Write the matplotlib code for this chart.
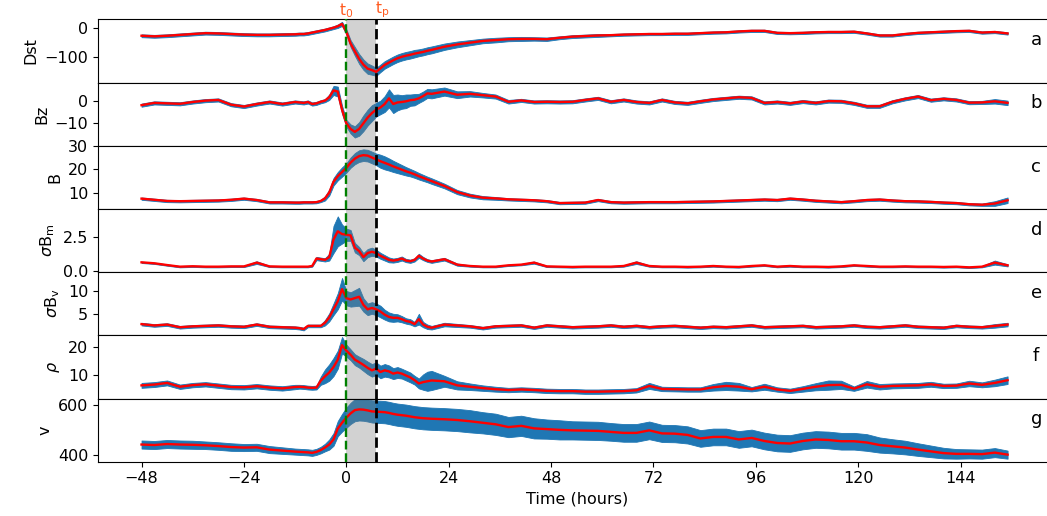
import matplotlib
matplotlib.use("Agg")
import matplotlib.pyplot as plt
import matplotlib.transforms as mtransforms
import numpy as np

# ---------------- data (hours relative to storm onset t0) ----------------
hours = [-48, -45, -42, -39, -36, -33, -30, -27, -24, -21, -18, -15, -12,
         -11, -10, -9, -8, -7, -6, -5, -4, -3, -2, -1, 0, 1, 2, 3, 4, 5, 6, 7, 8, 9, 10,
         11, 12, 13, 14, 15, 16, 17, 18, 19, 20,
         23, 26, 29, 32, 35, 38, 41, 44, 47, 50, 53, 56, 59, 62, 65, 68, 71, 74, 77, 80,
         83, 86, 89, 92, 95, 98, 101, 104, 107, 110, 113, 116, 119, 122, 125, 128, 131,
         134, 137, 140, 143, 146, 149, 152, 155]

t_onset = 0
t_peak = 7

dst = [-28, -30, -28, -25, -22, -19, -20, -22, -24, -25, -25, -24, -23,
       -22, -22, -20, -17, -14, -11, -8, -4, 0, 5, 13, -14, -55, -82, -108, -128, -142, -147, -153, -141, -129, -121,
       -113, -106, -101, -97, -94, -90, -87, -84, -80, -77,
       -66, -58, -52, -46, -43, -40, -39, -39, -40, -35, -31, -29, -27, -26, -24, -23, -22, -22, -21, -21,
       -19, -17, -16, -13, -11, -11, -18, -19, -18, -16, -15, -15, -14, -20, -27, -27, -22,
       -18, -16, -14, -12, -11, -17, -15, -20]
dst_w = [5, 5, 5, 5, 5, 5, 5, 5, 5, 5, 5, 5, 5,
         5, 5, 5, 5, 5, 5, 5, 5, 5, 6, 7, 9, 12, 15, 17, 18, 18, 16, 14, 13, 13, 13,
         13, 13, 13, 13, 13, 13, 12, 12, 12, 12,
         11, 10, 9, 8, 8, 7, 7, 6, 6, 5, 5, 5, 5, 4, 4, 4, 4, 4, 4, 4,
         4, 4, 4, 4, 4, 4, 4, 4, 4, 4, 4, 4, 4, 4, 4, 4, 4,
         4, 4, 4, 4, 4, 4, 4, 4]

bz = [-2.0, -1.0, -1.2, -1.4, -0.6, 0.0, 0.3, -1.8, -2.6, -1.5, -0.6, -1.5, -0.6,
      -0.8, -1.0, -0.6, -1.5, -1.2, -0.5, 0.0, 1.5, 4.5, 4.0, -4.0, -10.0, -12.5, -13.8, -12.5, -10.0, -7.5, -5.5, -4.0, -3.0, -1.5, 1.0,
      -1.5, -0.8, -0.6, -0.3, 0.2, 0.4, 1.0, 2.0, 3.2, 3.0,
      4.0, 2.6, 3.0, 2.4, 1.8, -0.5, 0.1, -0.6, -0.5, -0.6, -0.5, 0.3, 1.0, -0.5, 0.3, -0.6, -1.0, 0.3, -0.8, -1.2,
      -0.3, 0.5, 1.0, 1.5, 1.2, -1.0, -0.6, -1.2, -0.4, -1.0, -0.2, -0.3, -1.2, -2.5, -2.5, -0.5, 0.8,
      1.8, 0.2, 0.8, 0.3, -0.9, -0.8, -0.3, -1.0]
bz_w = [0.7, 0.7, 0.7, 0.7, 0.7, 0.7, 0.7, 0.7, 0.7, 0.7, 0.7, 0.7, 0.7,
        0.7, 0.7, 0.7, 0.7, 0.7, 0.7, 0.7, 1.2, 2.0, 2.2, 1.8, 1.5, 2.0, 2.5, 3.0, 3.5, 3.5, 3.5, 3.0, 3.0, 3.5, 4.0,
        4.0, 3.5, 3.0, 3.0, 2.5, 2.5, 2.0, 2.0, 2.0, 2.0,
        1.8, 1.5, 1.2, 1.0, 0.9, 0.8, 0.7, 0.7, 0.7, 0.7, 0.7, 0.7, 0.7, 0.7, 0.7, 0.7, 0.7, 0.7, 0.7, 0.7,
        0.7, 0.7, 0.7, 0.7, 0.7, 0.7, 0.7, 0.7, 0.7, 0.7, 0.7, 0.7, 0.7, 0.7, 0.7, 0.7, 0.7,
        0.7, 0.7, 0.7, 0.7, 0.7, 0.7, 1.0, 1.0]

bmag = [7.4, 6.9, 6.4, 6.3, 6.4, 6.5, 6.6, 6.9, 7.4, 6.8, 5.8, 5.8, 5.7,
        5.7, 5.8, 5.8, 5.8, 5.9, 6.4, 7.5, 10.0, 14.6, 17.0, 18.8, 20.5, 22.8, 24.5, 25.6, 26.0, 25.8, 25.0, 24.2, 23.4, 22.7, 22.0,
        21.2, 20.5, 19.8, 19.1, 18.5, 17.8, 17.0, 16.3, 15.6, 14.9,
        12.8, 10.2, 8.7, 7.8, 7.5, 7.1, 6.9, 6.7, 6.3, 5.5, 5.6, 5.7, 6.8, 5.9, 5.7, 5.8, 5.9, 5.9, 5.9, 6.0,
        6.1, 6.2, 6.4, 6.6, 6.8, 7.0, 6.8, 7.4, 7.0, 6.5, 6.2, 5.9, 6.3, 6.8, 7.0, 6.6, 6.3,
        6.2, 6.0, 5.7, 5.5, 5.0, 4.8, 5.3, 6.7]
bmag_w = [0.5, 0.5, 0.5, 0.5, 0.5, 0.5, 0.5, 0.5, 0.5, 0.5, 0.5, 0.5, 0.5,
          0.5, 0.5, 0.5, 0.5, 0.5, 0.5, 0.9, 1.3, 1.6, 1.8, 2.0, 2.0, 2.2, 2.4, 2.5, 2.5, 2.5, 2.5, 2.5, 2.8, 2.8, 2.6,
          2.4, 2.2, 2.0, 1.8, 1.6, 1.5, 1.4, 1.3, 1.2, 1.2,
          1.0, 0.9, 0.8, 0.7, 0.6, 0.5, 0.5, 0.5, 0.5, 0.5, 0.5, 0.5, 0.5, 0.5, 0.5, 0.5, 0.5, 0.5, 0.5, 0.5,
          0.5, 0.5, 0.5, 0.5, 0.5, 0.5, 0.5, 0.5, 0.5, 0.5, 0.5, 0.5, 0.5, 0.5, 0.5, 0.5, 0.5,
          0.5, 0.5, 0.5, 0.5, 0.5, 0.5, 1.0, 1.2]

sigma_bm = [0.62, 0.55, 0.42, 0.30, 0.33, 0.30, 0.30, 0.32, 0.32, 0.60, 0.32, 0.30, 0.30,
            0.30, 0.30, 0.30, 0.35, 0.90, 0.85, 0.80, 1.00, 2.30, 2.90, 2.70, 2.65, 2.60, 1.70, 1.45, 1.00, 1.30, 1.40, 1.30, 1.10, 0.95, 0.80,
            0.75, 0.80, 0.90, 0.75, 0.70, 0.80, 1.10, 0.90, 0.75, 0.68,
            0.85, 0.45, 0.35, 0.30, 0.30, 0.40, 0.45, 0.60, 0.32, 0.30, 0.28, 0.30, 0.30, 0.30, 0.35, 0.60, 0.35, 0.30, 0.30, 0.28,
            0.30, 0.35, 0.30, 0.28, 0.35, 0.40, 0.30, 0.35, 0.30, 0.30, 0.28, 0.32, 0.40, 0.35, 0.30, 0.30, 0.32,
            0.30, 0.30, 0.28, 0.30, 0.25, 0.30, 0.60, 0.40]
sigma_bm_w = [0.05, 0.05, 0.05, 0.05, 0.05, 0.05, 0.05, 0.05, 0.05, 0.10, 0.05, 0.05, 0.05,
              0.05, 0.05, 0.05, 0.05, 0.12, 0.12, 0.12, 0.25, 1.00, 1.10, 0.70, 0.45, 0.40, 0.35, 0.30, 0.30, 0.30, 0.30, 0.25, 0.22, 0.20, 0.18,
              0.15, 0.15, 0.15, 0.12, 0.12, 0.12, 0.15, 0.12, 0.10, 0.10,
              0.10, 0.08, 0.05, 0.05, 0.05, 0.05, 0.05, 0.08, 0.05, 0.05, 0.05, 0.05, 0.05, 0.05, 0.05, 0.10, 0.05, 0.05, 0.05, 0.05,
              0.05, 0.05, 0.05, 0.05, 0.05, 0.05, 0.05, 0.05, 0.05, 0.05, 0.05, 0.05, 0.05, 0.05, 0.05, 0.05, 0.05,
              0.05, 0.05, 0.05, 0.05, 0.05, 0.05, 0.15, 0.08]

sigma_bv = [2.7, 2.4, 2.6, 2.0, 2.2, 2.3, 2.4, 2.2, 2.1, 2.6, 2.1, 2.0, 1.9,
            1.8, 1.6, 2.3, 2.3, 2.3, 2.3, 3.0, 4.2, 6.0, 7.8, 10.5, 8.5, 8.2, 8.5, 8.8, 7.0, 6.0, 6.3, 6.0, 5.5, 4.8, 4.3,
            4.1, 4.1, 3.8, 3.4, 3.2, 2.7, 3.8, 2.6, 2.1, 1.9,
            2.6, 2.4, 2.2, 1.8, 2.2, 2.3, 2.4, 1.9, 2.4, 2.2, 2.0, 2.1, 2.2, 2.4, 2.1, 2.3, 2.0, 2.2, 2.3, 2.1,
            1.9, 2.1, 2.0, 2.2, 2.4, 2.0, 2.1, 2.2, 2.3, 2.0, 2.1, 2.2, 2.4, 2.1, 2.0, 2.2, 2.4,
            2.1, 2.0, 1.9, 2.3, 2.1, 2.0, 2.3, 2.6]
sigma_bv_w = [0.3, 0.3, 0.3, 0.3, 0.3, 0.3, 0.3, 0.3, 0.3, 0.3, 0.3, 0.3, 0.3,
              0.3, 0.3, 0.3, 0.3, 0.3, 0.3, 0.6, 0.9, 1.3, 1.8, 2.5, 1.6, 1.6, 1.8, 2.0, 1.5, 1.3, 1.3, 1.3, 1.3, 1.1, 1.0,
              0.9, 0.8, 0.7, 0.6, 0.6, 0.5, 1.2, 0.6, 0.5, 0.4,
              0.4, 0.35, 0.3, 0.3, 0.3, 0.3, 0.3, 0.3, 0.3, 0.3, 0.3, 0.3, 0.3, 0.3, 0.3, 0.3, 0.3, 0.3, 0.3, 0.3,
              0.3, 0.3, 0.3, 0.3, 0.3, 0.3, 0.3, 0.3, 0.3, 0.3, 0.3, 0.3, 0.3, 0.3, 0.3, 0.3, 0.3,
              0.3, 0.3, 0.3, 0.3, 0.3, 0.3, 0.4, 0.4]

density = [6.1, 6.4, 7.0, 5.6, 6.2, 6.5, 6.0, 5.5, 5.4, 5.8, 5.3, 5.0, 5.5,
           5.6, 5.5, 5.3, 5.2, 5.3, 7.8, 9.4, 10.8, 12.8, 15.5, 20.8, 18.8, 17.3, 15.5, 14.6, 13.6, 12.5, 11.6, 12.2, 11.0, 11.6, 11.2,
           10.4, 10.8, 10.4, 9.7, 9.0, 8.0, 6.8, 7.3, 7.6, 7.9,
           7.6, 6.1, 5.6, 5.1, 4.7, 4.4, 4.6, 4.4, 4.1, 4.0, 4.0, 3.8, 3.8, 3.9, 4.0, 4.3, 5.9, 4.8, 4.7, 4.6,
           4.6, 5.4, 5.9, 5.6, 4.7, 5.6, 4.6, 4.1, 4.8, 5.6, 6.2, 6.3, 4.9, 6.5, 5.6, 5.9, 6.0,
           6.1, 6.5, 5.9, 6.0, 6.8, 6.3, 7.0, 8.0]
density_w = [0.9, 0.9, 0.9, 0.8, 0.8, 0.8, 0.8, 0.8, 0.8, 0.8, 0.8, 0.8, 0.8,
             0.7, 0.7, 0.7, 0.7, 0.7, 1.5, 2.5, 3.0, 3.3, 3.3, 3.0, 2.2, 2.0, 2.0, 2.0, 2.2, 2.3, 2.3, 2.3, 2.3, 2.3, 2.2,
             2.0, 2.0, 1.8, 1.8, 1.8, 1.6, 1.8, 2.8, 3.5, 3.5,
             2.0, 1.5, 1.2, 1.0, 0.9, 0.8, 0.8, 0.8, 0.8, 0.8, 0.8, 0.8, 0.8, 0.8, 0.8, 0.8, 1.1, 0.8, 0.8, 0.8,
             0.8, 1.2, 1.5, 1.4, 0.8, 1.1, 0.8, 0.8, 1.0, 1.3, 1.7, 1.5, 0.8, 1.2, 1.0, 0.9, 0.9,
             0.9, 0.9, 0.8, 0.8, 1.0, 0.9, 1.2, 1.4]

speed = [442, 440, 444, 442, 441, 439, 436, 432, 430, 431, 422, 418, 414,
         413, 412, 411, 409, 413, 420, 430, 442, 462, 505, 528, 548, 565, 578, 581, 580, 577, 573, 572, 571, 570, 567,
         563, 560, 558, 556, 553, 550, 548, 546, 545, 544,
         542, 539, 534, 528, 522, 511, 516, 506, 503, 500, 498, 497, 496, 492, 488, 488, 498, 486, 485, 480,
         466, 472, 472, 462, 468, 456, 448, 446, 456, 462, 460, 455, 455, 450, 440, 435, 430,
         422, 415, 408, 405, 405, 404, 410, 402]
speed_w = [16, 16, 16, 16, 16, 15, 15, 15, 14, 14, 14, 13, 12,
           12, 12, 12, 12, 12, 13, 15, 20, 25, 30, 35, 40, 42, 44, 44, 44, 44, 44, 44, 44, 44, 44,
           44, 44, 44, 44, 44, 44, 44, 44, 44, 44,
           44, 44, 44, 42, 42, 40, 40, 40, 38, 38, 36, 36, 36, 35, 35, 35, 35, 34, 34, 34,
           33, 33, 33, 33, 33, 33, 33, 33, 33, 33, 33, 33, 33, 33, 30, 28, 27,
           25, 23, 21, 19, 18, 18, 18, 16]

panel_names = ["Dst", "Bz", "B", r"$\sigma$B$_\mathrm{m}$", r"$\sigma$B$_\mathrm{v}$", r"$\rho$", "v"]
panel_letters = ["a", "b", "c", "d", "e", "f", "g"]
panel_medians = [dst, bz, bmag, sigma_bm, sigma_bv, density, speed]
panel_widths = [dst_w, bz_w, bmag_w, sigma_bm_w, sigma_bv_w, density_w, speed_w]
panel_ylims = [(-190, 29), (-19.9, 8.0), (3.0, 30.05), (-0.1, 4.55), (0.2, 14.3), (1.3, 24.4), (374, 624)]
panel_yticks = [[-100, 0], [-10, 0], [10, 20, 30], [0.0, 2.5], [5, 10], [10, 20], [400, 600]]
panel_yticklabels = [["\u2212100", "0"], ["\u221210", "0"], ["10", "20", "30"], ["0.0", "2.5"],
                     ["5", "10"], ["10", "20"], ["400", "600"]]
xticks = [-48, -24, 0, 24, 48, 72, 96, 120, 144]

# ---------------- figure ----------------
fig = plt.figure(figsize=(10.47, 5.16), dpi=100)
left, right = 0.0936, 1.008
top, bottom = 0.9626, 0.1052
h = (top - bottom) / 7
t = np.array(hours, dtype=float)

axes = []
for i in range(7):
    ax = fig.add_axes([left, top - (i + 1) * h, right - left, h],
                      sharex=axes[0] if axes else None)
    axes.append(ax)
    med = np.array(panel_medians[i], dtype=float)
    w = np.array(panel_widths[i], dtype=float)
    ax.fill_between(t, med - w, med + w, color="#1f77b4", lw=0.6, edgecolor="#1f77b4", zorder=1)
    ax.axvspan(t_onset, t_peak, color="gray", alpha=0.35, lw=0, zorder=2)
    ax.plot(t, med, color="red", lw=1.7, zorder=3)
    ax.axvline(t_onset, color="green", ls="--", lw=1.7, zorder=4)
    ax.axvline(t_peak, color="black", ls="--", lw=2.0, zorder=4)
    ax.set_ylim(*panel_ylims[i])
    ax.set_yticks(panel_yticks[i])
    ax.set_yticklabels(panel_yticklabels[i])
    ax.set_ylabel(panel_names[i], fontsize=11.5)
    ax.tick_params(axis="y", labelsize=11.5)
    ax.text(0.98, 0.67, panel_letters[i], transform=ax.transAxes, ha="center", va="center", fontsize=13)
    if i < 6:
        ax.tick_params(axis="x", bottom=False, labelbottom=False)

axes[0].set_xlim(-58.2, 166.2)
axes[-1].set_xticks(xticks)
axes[-1].set_xticklabels([("\u2212%d" % -v) if v < 0 else str(v) for v in xticks])
axes[-1].tick_params(axis="x", labelsize=11.5)
axes[-1].set_xlabel("Time (hours)", fontsize=11.5)

trans = mtransforms.blended_transform_factory(axes[0].transData, axes[0].transAxes)
axes[0].text(t_onset, 0.99, r"t$_0$", transform=trans, ha="center", va="bottom",
             color="#ff5a1f", fontsize=11)
axes[0].text(t_peak - 0.3, 0.99, r"t$_\mathrm{p}$", transform=trans, ha="left", va="bottom",
             color="#ff5a1f", fontsize=11)

fig.savefig("out.png", dpi=100)
